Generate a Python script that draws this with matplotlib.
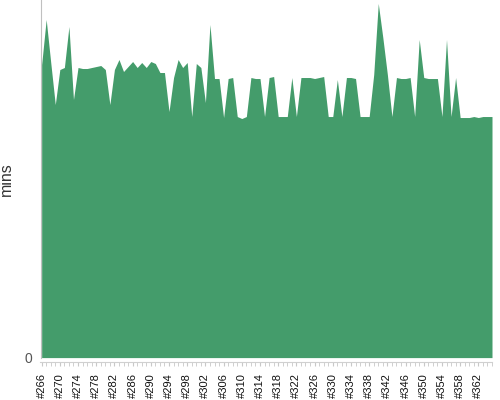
import numpy as np
import matplotlib.pyplot as plt

# build numbers and their durations (mins)
builds = list(range(266, 366))
durations = [
    29.3, 33.8, 29.5, 25.3, 28.8, 29.0, 33.1, 25.8, 29.0, 28.9,
    28.9, 29.0, 29.1, 29.2, 28.8, 25.3, 28.8, 29.8, 28.6, 29.1,
    29.6, 29.0, 29.5, 29.0, 29.6, 29.4, 28.5, 28.5, 24.6, 28.0,
    29.8, 29.0, 29.5, 24.1, 29.4, 29.0, 25.5, 33.3, 27.9, 27.9,
    24.0, 27.9, 28.0, 24.1, 23.9, 24.1, 28.0, 27.9, 27.9, 24.1,
    28.0, 28.1, 24.1, 24.1, 24.1, 28.0, 24.1, 28.0, 28.0, 28.0,
    27.9, 28.0, 28.1, 24.1, 24.1, 27.8, 24.1, 28.0, 28.0, 27.9,
    24.1, 24.1, 24.1, 28.3, 35.4, 32.0, 28.3, 24.1, 28.0, 27.9,
    27.9, 28.0, 24.1, 31.8, 28.0, 27.9, 27.9, 27.9, 24.1, 31.8,
    24.1, 28.0, 24.0, 24.0, 24.0, 24.1, 24.0, 24.1, 24.1, 24.1,
]
tick_builds = builds[::4]
tick_labels = ['#%d' % b for b in tick_builds]

fig = plt.figure(figsize=(5, 4), dpi=100)
ax = fig.add_axes([0.081, 0.106, 0.903, 0.894])

ax.fill_between(builds, durations, 0, color='#449c6b', linewidth=0)

ax.set_xlim(265.75, 365)
ax.set_ylim(0, 35.75)

# axes styling
for s in ['top', 'right']:
    ax.spines[s].set_visible(False)
ax.spines['left'].set_color('#c0c0c0')
ax.spines['bottom'].set_color('#d0d0d0')
ax.spines['bottom'].set_position(('outward', 3))

ax.set_yticks([0])
ax.set_yticklabels(['0'], fontsize=10, color='#555555', family='Liberation Sans')
ax.tick_params(axis='y', length=0, pad=6)

ax.set_xticks(tick_builds)
ax.set_xticklabels(tick_labels, rotation=90, fontsize=8, family='Liberation Sans', color='#111111')
ax.set_xticks(builds, minor=True)
ax.tick_params(axis='x', which='both', length=3, color='#c8c8c8', pad=5)

# place the y label by hand so it stays inside the figure
ax.set_ylabel('mins', fontsize=11.5, color='#333333', family='Liberation Sans')
ax.yaxis.set_label_coords(-0.058, 0.5)

fig.savefig('out.png', dpi=100)
